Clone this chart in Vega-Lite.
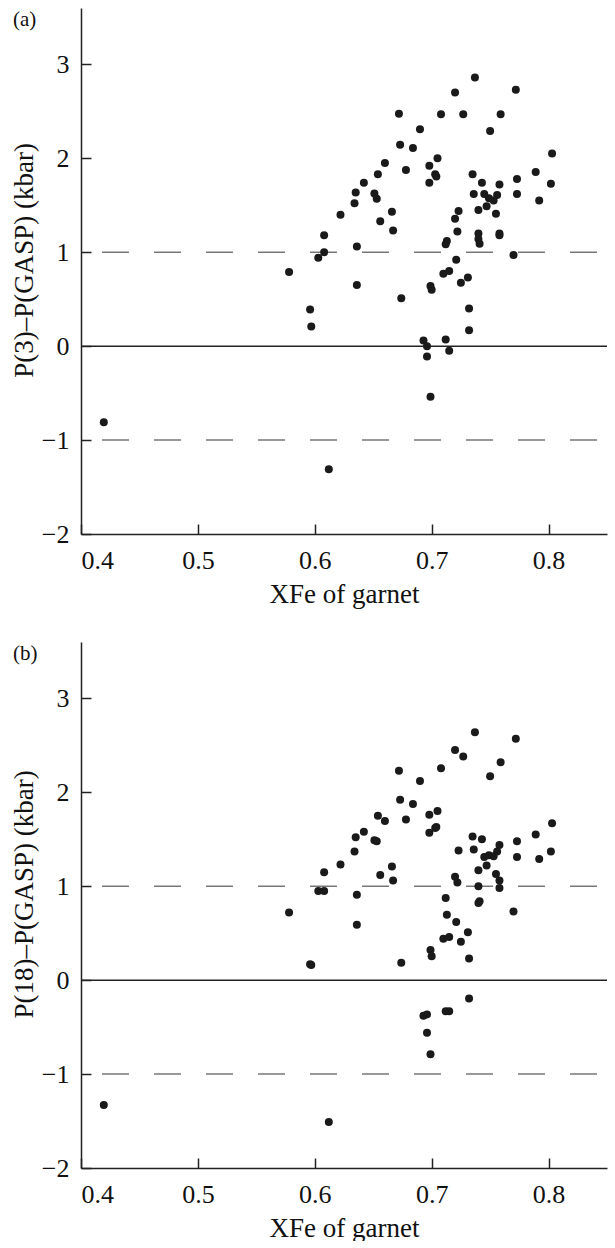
{
  "$schema": "https://vega.github.io/schema/vega-lite/v6.json",
  "background": "white",
  "padding": {"left": 10, "top": 8, "right": 0, "bottom": 0},
  "spacing": 35,
  "config": {
    "font": "Liberation Serif, serif",
    "view": {"stroke": null},
    "text": {"font": "Liberation Serif, serif"},
    "axis": {
      "grid": false,
      "zindex": 1,
      "domainColor": "#222",
      "domainWidth": 1.5,
      "tickSize": -10,
      "tickWidth": 1.5,
      "tickColor": "#222",
      "labelFont": "Liberation Serif, serif",
      "labelFontSize": 26,
      "labelColor": "#111",
      "titleFont": "Liberation Serif, serif",
      "titleFontSize": 27,
      "titleFontWeight": "normal",
      "titleColor": "#111"
    },
    "axisX": {"labelPadding": 23, "titlePadding": 8},
    "axisY": {"labelPadding": 22, "titlePadding": 3, "titleY": 252}
  },
  "datasets": {
    "dash": [{"y": 1}, {"y": -1}],
    "zero": [{"y": 0}],
    "labA": [{"t": "(a)", "x": 0.4, "y": 3.6}],
    "labB": [{"t": "(b)", "x": 0.4, "y": 3.6}],
    "a": [
      {"x":0.737,"y":2.86},{"x":0.720,"y":2.70},{"x":0.772,"y":2.73},{"x":0.672,"y":2.475},{"x":0.708,"y":2.47},{"x":0.727,"y":2.47},{"x":0.759,"y":2.47},{"x":0.690,"y":2.31},{"x":0.750,"y":2.29},{"x":0.673,"y":2.145},{"x":0.684,"y":2.11},{"x":0.705,"y":2.00},{"x":0.803,"y":2.05},{"x":0.660,"y":1.95},{"x":0.698,"y":1.92},{"x":0.654,"y":1.83},{"x":0.678,"y":1.875},{"x":0.703,"y":1.83},{"x":0.704,"y":1.805},{"x":0.735,"y":1.83},{"x":0.789,"y":1.855},{"x":0.698,"y":1.74},{"x":0.743,"y":1.74},{"x":0.758,"y":1.72},{"x":0.773,"y":1.78},{"x":0.802,"y":1.73},{"x":0.642,"y":1.74},{"x":0.635,"y":1.635},{"x":0.651,"y":1.625},{"x":0.653,"y":1.57},{"x":0.634,"y":1.52},{"x":0.736,"y":1.62},{"x":0.745,"y":1.62},{"x":0.749,"y":1.575},{"x":0.756,"y":1.61},{"x":0.753,"y":1.55},{"x":0.747,"y":1.49},{"x":0.740,"y":1.45},{"x":0.773,"y":1.62},{"x":0.792,"y":1.55},{"x":0.622,"y":1.40},{"x":0.723,"y":1.44},{"x":0.755,"y":1.41},{"x":0.666,"y":1.43},{"x":0.720,"y":1.355},{"x":0.656,"y":1.33},{"x":0.667,"y":1.23},{"x":0.722,"y":1.22},{"x":0.740,"y":1.20},{"x":0.758,"y":1.20},{"x":0.758,"y":1.18},{"x":0.740,"y":1.14},{"x":0.741,"y":1.09},{"x":0.713,"y":1.12},{"x":0.712,"y":1.085},{"x":0.608,"y":1.18},{"x":0.636,"y":1.06},{"x":0.608,"y":1.00},{"x":0.603,"y":0.94},{"x":0.770,"y":0.97},{"x":0.721,"y":0.92},{"x":0.578,"y":0.79},{"x":0.710,"y":0.77},{"x":0.715,"y":0.80},{"x":0.731,"y":0.73},{"x":0.725,"y":0.675},{"x":0.636,"y":0.65},{"x":0.699,"y":0.64},{"x":0.700,"y":0.60},{"x":0.674,"y":0.51},{"x":0.596,"y":0.39},{"x":0.732,"y":0.40},{"x":0.597,"y":0.21},{"x":0.732,"y":0.17},{"x":0.693,"y":0.06},{"x":0.696,"y":0.00},{"x":0.696,"y":-0.11},{"x":0.712,"y":0.07},{"x":0.715,"y":-0.05},{"x":0.699,"y":-0.54},{"x":0.4195,"y":-0.81},{"x":0.612,"y":-1.31}
    ],
    "b": [
      {"x":0.737,"y":2.64},{"x":0.772,"y":2.57},{"x":0.720,"y":2.45},{"x":0.727,"y":2.38},{"x":0.759,"y":2.32},{"x":0.672,"y":2.23},{"x":0.708,"y":2.255},{"x":0.750,"y":2.17},{"x":0.690,"y":2.12},{"x":0.673,"y":1.92},{"x":0.684,"y":1.875},{"x":0.705,"y":1.80},{"x":0.654,"y":1.75},{"x":0.660,"y":1.695},{"x":0.678,"y":1.71},{"x":0.698,"y":1.76},{"x":0.703,"y":1.62},{"x":0.704,"y":1.63},{"x":0.698,"y":1.57},{"x":0.803,"y":1.67},{"x":0.789,"y":1.55},{"x":0.642,"y":1.58},{"x":0.635,"y":1.52},{"x":0.651,"y":1.49},{"x":0.653,"y":1.48},{"x":0.634,"y":1.37},{"x":0.735,"y":1.53},{"x":0.743,"y":1.50},{"x":0.773,"y":1.48},{"x":0.758,"y":1.44},{"x":0.723,"y":1.38},{"x":0.736,"y":1.39},{"x":0.802,"y":1.37},{"x":0.792,"y":1.29},{"x":0.773,"y":1.31},{"x":0.756,"y":1.37},{"x":0.753,"y":1.32},{"x":0.749,"y":1.33},{"x":0.745,"y":1.31},{"x":0.747,"y":1.22},{"x":0.740,"y":1.17},{"x":0.622,"y":1.23},{"x":0.666,"y":1.21},{"x":0.656,"y":1.12},{"x":0.667,"y":1.06},{"x":0.608,"y":1.15},{"x":0.720,"y":1.10},{"x":0.722,"y":1.04},{"x":0.755,"y":1.13},{"x":0.758,"y":1.06},{"x":0.758,"y":0.98},{"x":0.740,"y":1.00},{"x":0.603,"y":0.95},{"x":0.608,"y":0.95},{"x":0.636,"y":0.91},{"x":0.712,"y":0.875},{"x":0.741,"y":0.84},{"x":0.740,"y":0.82},{"x":0.578,"y":0.72},{"x":0.770,"y":0.73},{"x":0.713,"y":0.695},{"x":0.721,"y":0.62},{"x":0.636,"y":0.59},{"x":0.731,"y":0.51},{"x":0.710,"y":0.44},{"x":0.715,"y":0.46},{"x":0.725,"y":0.41},{"x":0.699,"y":0.32},{"x":0.700,"y":0.255},{"x":0.732,"y":0.23},{"x":0.674,"y":0.185},{"x":0.596,"y":0.17},{"x":0.597,"y":0.16},{"x":0.732,"y":-0.195},{"x":0.693,"y":-0.38},{"x":0.696,"y":-0.365},{"x":0.712,"y":-0.33},{"x":0.715,"y":-0.33},{"x":0.696,"y":-0.56},{"x":0.699,"y":-0.79},{"x":0.4195,"y":-1.33},{"x":0.612,"y":-1.51}
    ]
  },
  "vconcat": [
    {
      "width": 526,
      "height": 526,
      "encoding": {
        "x": {"field": "x", "type": "quantitative", "scale": {"domain": [0.4, 0.85], "nice": false, "zero": false},
              "axis": {"title": "XFe of garnet", "values": [0.4, 0.5, 0.6, 0.7, 0.8], "format": ".1f"}},
        "y": {"field": "y", "type": "quantitative", "scale": {"domain": [-2, 3.6], "nice": false, "zero": false},
              "axis": {"title": "P(3)–P(GASP) (kbar)", "values": [-2, -1, 0, 1, 2, 3], "format": "d"}}
      },
      "layer": [
        {"data": {"name": "dash"}, "mark": {"type": "rule", "color": "#777", "strokeWidth": 1.5, "strokeDash": [27, 25], "strokeDashOffset": 42},
         "encoding": {"x": null}},
        {"data": {"name": "zero"}, "mark": {"type": "rule", "color": "#222", "strokeWidth": 1.5},
         "encoding": {"x": null}},
        {"data": {"name": "a"}, "mark": {"type": "circle", "size": 64, "color": "#1a1a1a", "opacity": 1}},
        {"data": {"name": "labA"}, "mark": {"type": "text", "fontSize": 21, "color": "#111", "align": "left", "baseline": "top", "dx": -68, "dy": 1},
         "encoding": {"text": {"field": "t"}}}
      ]
    },
    {
      "width": 526,
      "height": 526,
      "encoding": {
        "x": {"field": "x", "type": "quantitative", "scale": {"domain": [0.4, 0.85], "nice": false, "zero": false},
              "axis": {"title": "XFe of garnet", "values": [0.4, 0.5, 0.6, 0.7, 0.8], "format": ".1f"}},
        "y": {"field": "y", "type": "quantitative", "scale": {"domain": [-2, 3.6], "nice": false, "zero": false},
              "axis": {"title": "P(18)–P(GASP) (kbar)", "values": [-2, -1, 0, 1, 2, 3], "format": "d"}}
      },
      "layer": [
        {"data": {"name": "dash"}, "mark": {"type": "rule", "color": "#777", "strokeWidth": 1.5, "strokeDash": [27, 25], "strokeDashOffset": 42},
         "encoding": {"x": null}},
        {"data": {"name": "zero"}, "mark": {"type": "rule", "color": "#222", "strokeWidth": 1.5},
         "encoding": {"x": null}},
        {"data": {"name": "b"}, "mark": {"type": "circle", "size": 64, "color": "#1a1a1a", "opacity": 1}},
        {"data": {"name": "labB"}, "mark": {"type": "text", "fontSize": 21, "color": "#111", "align": "left", "baseline": "top", "dx": -68, "dy": 1},
         "encoding": {"text": {"field": "t"}}}
      ]
    }
  ]
}
